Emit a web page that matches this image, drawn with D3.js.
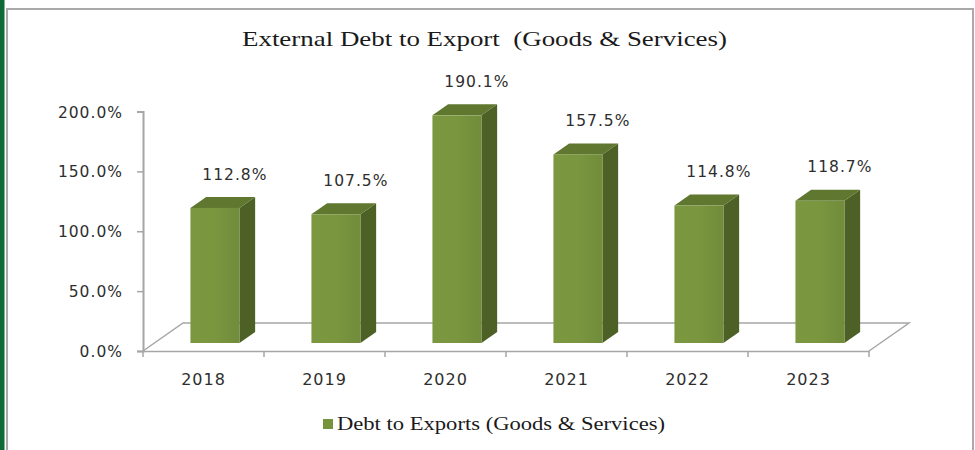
<!DOCTYPE html>
<html>
<head>
<meta charset="utf-8">
<script src="https://cdn.jsdelivr.net/npm/d3@7"></script>
<style>
  html, body { margin: 0; padding: 0; background: #fff; }
  svg { display: block; }
</style>
</head>
<body>
<svg id="chart" width="975" height="450"></svg>
<script>
const categories = ["2018", "2019", "2020", "2021", "2022", "2023"];
const values = [112.8, 107.5, 190.1, 157.5, 114.8, 118.7];
const yTicks = [0, 50, 100, 150, 200];
const seriesName = "Debt to Exports (Goods & Services)";
const title = "External Debt to Export\u00a0\u00a0(Goods & Services)";

const svg = d3.select("#chart");
const W = 975, H = 450;

// left green strip and frame
svg.append("rect").attr("x", 0).attr("y", 0).attr("width", 4.5).attr("height", H).attr("fill", "#0d6b38");
svg.append("rect").attr("x", 7).attr("y", 9).attr("width", 966).attr("height", 460)
  .attr("fill", "#fff").attr("stroke", "#a9a9a9").attr("stroke-width", 2);

// plot geometry
const x0 = 143, x1 = 869, yBase = 351, yTop = 111.5;
const depthDX = 40, depthDY = -28;           // floor depth
const fFront = 8 / 28, fBack = 19 / 28;      // bar position in depth
const barW = 49;

const x = d3.scaleBand().domain(categories).range([x0, x1]).padding(0);
const y = d3.scaleLinear().domain([0, 200]).range([yBase, yTop]);

const gray = "#a6a6a6";
const txt = "#2e2e2e";
const sans = "DejaVu Sans";

// floor parallelogram
const floor = d3.path();
floor.moveTo(x0, yBase);
floor.lineTo(x0 + depthDX, yBase + depthDY);
floor.lineTo(x1 + depthDX, yBase + depthDY);
floor.lineTo(x1, yBase);
svg.append("path").attr("d", floor.toString()).attr("fill", "none")
  .attr("stroke", gray).attr("stroke-width", 1.5);

// value axis
const yAxis = d3.axisLeft(y).tickValues(yTicks).tickSize(6).tickPadding(14)
  .tickFormat(d => d3.format(".1f")(d) + "%");
const gy = svg.append("g").attr("transform", `translate(${x0},0)`).call(yAxis);
gy.select(".domain").attr("stroke", gray).attr("stroke-width", 2);
gy.selectAll(".tick line").attr("stroke", gray).attr("stroke-width", 1.5);
gy.selectAll(".tick text").attr("font-family", sans).attr("font-size", 15.5)
  .attr("letter-spacing", 1).attr("fill", txt).attr("dy", "0.36em");

// category axis
const xAxis = d3.axisBottom(x).tickSize(0).tickPadding(23);
const gx = svg.append("g").attr("transform", `translate(0,${yBase})`).call(xAxis);
gx.select(".domain").attr("stroke", gray).attr("stroke-width", 1.5);
gx.selectAll(".tick text").attr("font-family", sans).attr("font-size", 16)
  .attr("letter-spacing", 1).attr("fill", txt);
// category boundary ticks
const bounds = categories.map(c => x(c)).concat([x1]);
gx.selectAll(".bnd").data(bounds).join("line").attr("class", "bnd")
  .attr("x1", d => d).attr("x2", d => d).attr("y1", 0).attr("y2", 6)
  .attr("stroke", gray).attr("stroke-width", 1.5);

// bars (3D)
const fdx = depthDX * fFront, fdy = depthDY * fFront;
const bdx = depthDX * (fBack - fFront), bdy = depthDY * (fBack - fFront);
const defs = svg.append("defs");
const grad = defs.append("linearGradient").attr("id", "front").attr("x1", 0).attr("x2", 1).attr("y1", 0).attr("y2", 0);
grad.append("stop").attr("offset", 0).attr("stop-color", "#7b9840");
grad.append("stop").attr("offset", 0.5).attr("stop-color", "#7a963f");
grad.append("stop").attr("offset", 1).attr("stop-color", "#718c3a");

const bars = svg.append("g").selectAll("g").data(categories.map((c, i) => ({ c, v: values[i] }))).join("g");
bars.each(function(d) {
  const g = d3.select(this);
  const left = x(d.c) + x.bandwidth() / 2 - barW / 2 + fdx;
  const right = left + barW;
  const bottom = yBase + fdy;
  const top = y(d.v) + fdy;
  // side
  g.append("path").attr("d", `M${right},${bottom}L${right + bdx},${bottom + bdy}L${right + bdx},${top + bdy}L${right},${top}Z`)
    .attr("fill", "#4d6126");
  // top
  g.append("path").attr("d", `M${left},${top}L${left + bdx},${top + bdy}L${right + bdx},${top + bdy}L${right},${top}Z`)
    .attr("fill", "#5f772f");
  // front
  g.append("rect").attr("x", left).attr("y", top).attr("width", barW).attr("height", bottom - top)
    .attr("fill", "url(#front)");
  // label
  g.append("text").attr("x", left + barW / 2 + 20).attr("y", top - 34).attr("dy", "0.36em")
    .attr("text-anchor", "middle").attr("font-family", sans).attr("font-size", 15.5)
    .attr("letter-spacing", 1).attr("fill", txt).text(d3.format(".1f")(d.v) + "%");
});

// title
svg.append("text").attr("x", 484.5).attr("y", 46).attr("text-anchor", "middle")
  .attr("font-family", "Liberation Serif").attr("font-size", 22).attr("fill", "#1a1a1a")
  .attr("textLength", 485).attr("lengthAdjust", "spacingAndGlyphs").text(title);

// legend
svg.append("rect").attr("x", 323).attr("y", 419).attr("width", 10).attr("height", 10).attr("fill", "#77933c");
svg.append("text").attr("x", 337).attr("y", 430).attr("font-family", "Liberation Serif").attr("font-size", 18.5)
  .attr("fill", "#1a1a1a").attr("textLength", 328).attr("lengthAdjust", "spacingAndGlyphs").text(seriesName);
</script>
</body>
</html>
